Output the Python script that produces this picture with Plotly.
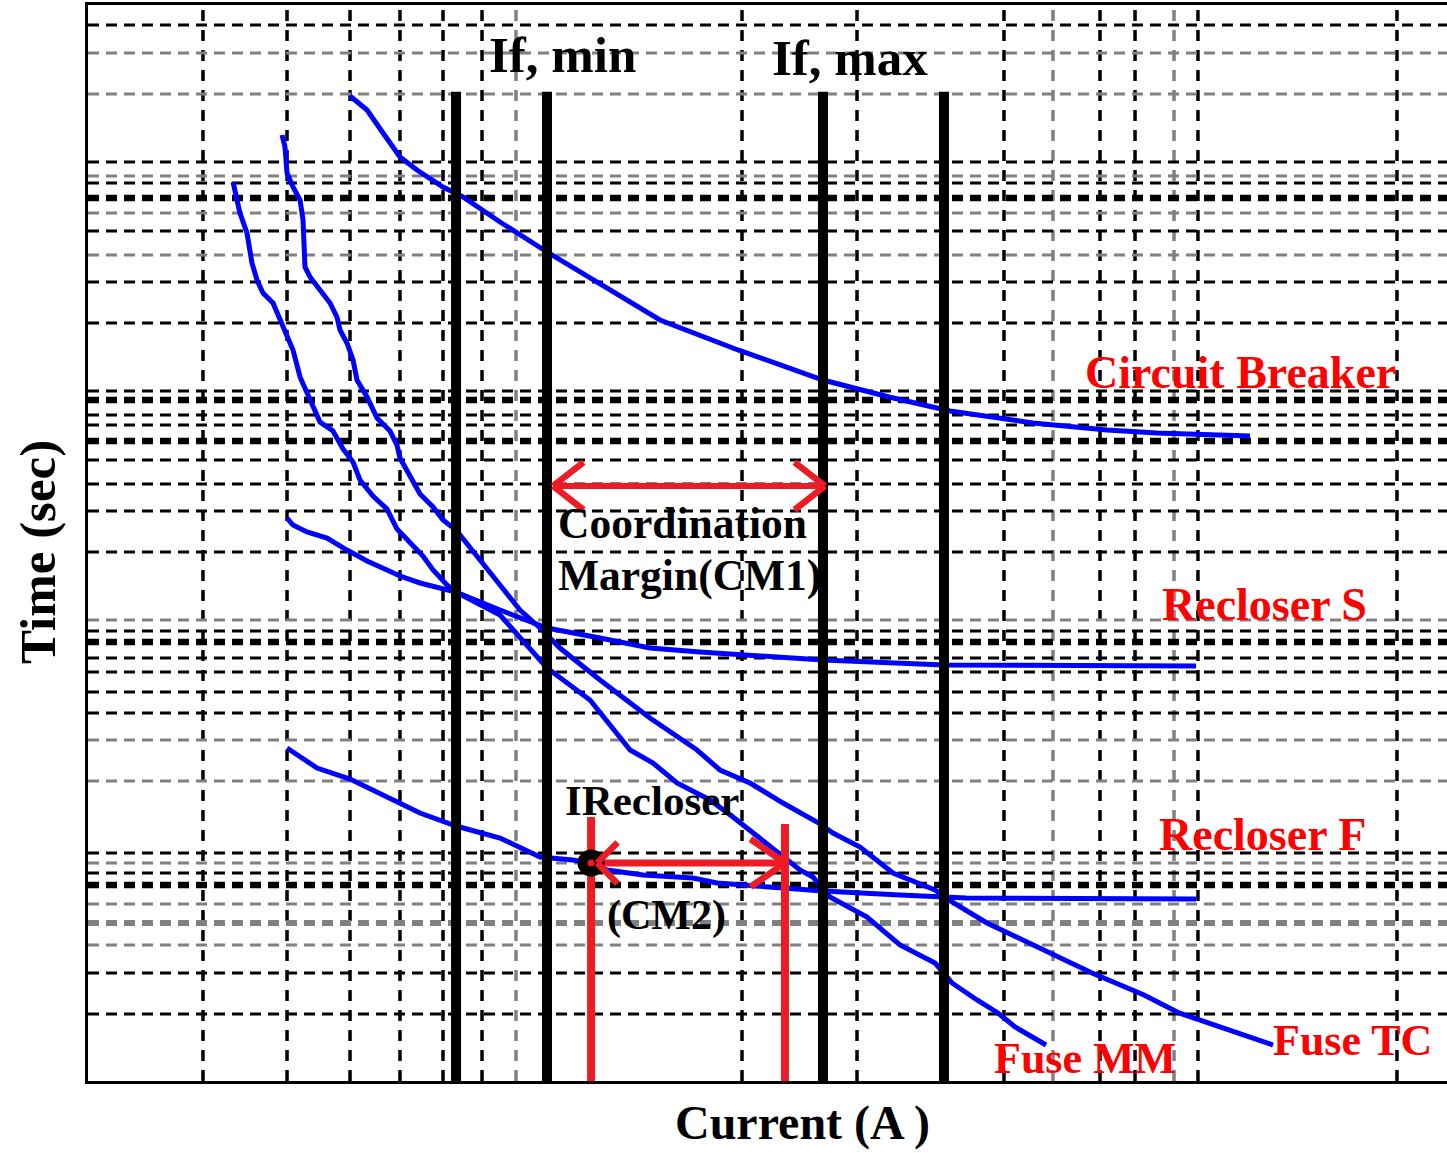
import numpy as np
import plotly.graph_objects as go

# ---------------- time-current characteristics (current in A, time in s) ----------------
cb_current = [3.788, 4.130, 4.480, 4.883, 5.324, 6.077, 6.727, 8.120, 10.31, 13.78, 18.31,
              27.22, 41.93, 58.64, 79.98, 121.9, 177.6, 229.0, 367.5]
cb_time = [131.6, 115.1, 92.19, 73.15, 64.53, 54.81, 49.77, 39.13, 29.31, 20.92, 15.23,
           11.41, 8.545, 7.255, 6.339, 5.648, 5.279, 5.129, 4.983]

rs_current = [2.750, 2.835, 3.044, 3.370, 3.730, 4.130, 4.571, 4.883, 5.406, 6.200, 6.493,
              8.120, 10.31, 13.50, 17.40, 22.44, 28.93, 41.93, 77.55, 279.2]
rs_time = [2.262, 2.114, 1.977, 1.866, 1.662, 1.495, 1.371, 1.294, 1.210, 1.131, 1.109,
           0.9328, 0.7844, 0.7123, 0.6468, 0.6223, 0.6047, 0.5763, 0.5493, 0.5440]

rf_current = [2.750, 3.203, 3.788, 4.480, 5.406, 6.493, 8.120, 9.949, 11.76, 12.90, 13.99,
              16.80, 21.65, 24.46, 32.51, 41.93, 62.00, 86.75, 279.2]
rf_time = [0.2469, 0.2037, 0.1832, 0.1571, 0.1320, 0.1165, 0.1038, 0.08645, 0.08401, 0.08161,
           0.07630, 0.07269, 0.07062, 0.06730, 0.06477, 0.06231, 0.05996, 0.05825, 0.05769]

mm_current = [2.090, 2.132, 2.165, 2.244, 2.301, 2.361, 2.434, 2.561, 2.653, 2.722, 2.835,
              2.938, 3.044, 3.252, 3.474, 3.655, 3.846, 3.985, 4.257, 4.571, 4.810, 5.138,
              5.489, 5.776, 6.200, 6.493, 8.120, 10.31, 12.83, 15.73, 17.67, 19.96, 23.61,
              26.53, 29.38, 31.54, 35.45, 37.30, 39.85, 43.45, 52.44, 62.00, 74.10, 80.78,
              91.73, 102.0, 111.3, 121.3, 130.3]
mm_time = [57.50, 49.77, 42.67, 35.20, 26.36, 22.38, 19.75, 17.94, 15.23, 13.44, 11.41,
           8.796, 7.539, 5.702, 5.228, 4.397, 3.879, 3.263, 2.796, 2.467, 2.035, 1.778,
           1.569, 1.371, 1.187, 1.109, 0.8890, 0.5336, 0.3921, 0.2422, 0.2138, 0.1763, 0.1497,
           0.1271, 0.1089, 0.09892, 0.08161, 0.07630, 0.07130, 0.05881, 0.04850, 0.03705,
           0.03115, 0.02570, 0.02182, 0.01926, 0.01682, 0.01528, 0.01414]

tc_current = [2.681, 2.722, 2.750, 2.835, 2.938, 2.983, 3.013, 3.091, 3.252, 3.422, 3.545,
              3.600, 3.730, 3.846, 3.925, 4.130, 4.345, 4.642, 4.810, 4.883, 5.138, 5.406,
              5.776, 6.077, 6.493, 7.334, 8.120, 8.987, 9.949, 11.01, 13.50, 17.40, 22.10,
              24.84, 28.93, 34.21, 40.67, 44.11, 50.61, 59.84, 74.10, 80.78, 96.49, 115.3,
              137.8, 164.6, 214.4, 256.1, 306.0, 363.7, 413.0]
tc_time = [90.43, 80.55, 62.71, 54.81, 48.36, 39.89, 25.37, 23.04, 20.33, 17.94, 15.67,
           13.83, 12.20, 10.36, 8.545, 7.255, 5.926, 5.228, 4.569, 4.032, 3.390, 2.850,
           2.515, 2.219, 2.016, 1.510, 1.187, 0.9328, 0.7844, 0.6468, 0.4753, 0.3298, 0.2422,
           0.1998, 0.1763, 0.1454, 0.1211, 0.1089, 0.09519, 0.07414, 0.06291, 0.05605,
           0.04579, 0.03888, 0.03301, 0.02829, 0.02289, 0.01926, 0.01715, 0.01528, 0.01414]

# fault current bands (A) and the height of the band markers (s)
if_min_bounds = [6.493, 10.31]
if_max_bounds = [41.93, 77.55]
band_top_time = 137.0
axis_bottom_time = 0.01

# recloser pickup point and coordination margins
i_recloser = 12.90
t_recloser = 0.08161
cm2_right_current = 34.56
cm2_line_tops = [0.1271, 0.1188]
cm1_current = [10.63, 42.36]
cm1_time = 3.078
cm2_current = [13.50, 34.56]

# log-paper grid (A / s)
grid_x_black = [1.794, 2.750, 3.788, 4.883, 6.077, 7.410, 27.78, 49.84, 105.2, 171.4,
                204.8, 282.0, 775.5]
grid_x_gray = [8.806, 134.96, 249.7]
grid_y_black = [260.9, 69.72, 56.95, 35.87, 21.95, 14.80, 7.686, 6.099, 5.539, 3.955, 3.138,
                2.420, 1.630, 0.7621, 0.5875, 0.5134, 0.4233, 0.3459, 0.08984, 0.07414,
                0.02829, 0.01907]
grid_y_black_heavy = [49.29, 7.047, 4.750, 0.6855, 0.06603]
grid_y_gray = [199.2, 134.2, 60.93, 42.67, 28.48, 0.8472, 0.2668, 0.1797, 0.08161, 0.05497,
               0.03705]
grid_y_gray_heavy = [0.04579]

BLUE = "#0000FF"
RED = "#ED1C24"
LABEL_RED = "#FF0000"
SERIF = "Liberation Serif, Times New Roman, serif"

fig = go.Figure()

# ---------------- grid ----------------
shapes = []
for xv, col in [(v, "#000000") for v in grid_x_black] + [(v, "#808080") for v in grid_x_gray]:
    shapes.append(dict(type="line", xref="x", yref="paper", x0=xv, x1=xv, y0=0, y1=1,
                       layer="below", line=dict(color=col, width=3.5, dash="11px,9px")))
for yv, col, w in ([(v, "#000000", 3) for v in grid_y_black]
                   + [(v, "#000000", 6.5) for v in grid_y_black_heavy]
                   + [(v, "#808080", 3) for v in grid_y_gray]
                   + [(v, "#808080", 6) for v in grid_y_gray_heavy]):
    shapes.append(dict(type="line", xref="paper", yref="y", x0=0, x1=1, y0=yv, y1=yv,
                       layer="below", line=dict(color=col, width=w, dash="11px,7px")))

# ---------------- device curves ----------------
curves = [
    ("Circuit Breaker", cb_current, cb_time),
    ("Recloser S", rs_current, rs_time),
    ("Recloser F", rf_current, rf_time),
    ("Fuse MM", mm_current, mm_time),
    ("Fuse TC", tc_current, tc_time),
]
for name, xs, ys in curves:
    fig.add_trace(go.Scatter(x=xs, y=ys, mode="lines", name=name,
                             line=dict(color=BLUE, width=5), showlegend=False))

# fault current band markers
for xv in if_min_bounds + if_max_bounds:
    fig.add_trace(go.Scatter(x=[xv, xv], y=[axis_bottom_time, band_top_time], mode="lines",
                             line=dict(color="#000000", width=10), showlegend=False))

# recloser / fuse coordination verticals
fig.add_trace(go.Scatter(x=[i_recloser, i_recloser], y=[axis_bottom_time, cm2_line_tops[0]],
                         mode="lines", line=dict(color=RED, width=8), showlegend=False))
fig.add_trace(go.Scatter(x=[cm2_right_current, cm2_right_current],
                         y=[axis_bottom_time, cm2_line_tops[1]],
                         mode="lines", line=dict(color=RED, width=8), showlegend=False))

# arrow shafts
fig.add_trace(go.Scatter(x=cm1_current, y=[cm1_time, cm1_time], mode="lines",
                         line=dict(color=RED, width=6), showlegend=False))
fig.add_trace(go.Scatter(x=cm2_current, y=[t_recloser, t_recloser], mode="lines",
                         line=dict(color=RED, width=7), showlegend=False))

# recloser pickup point
fig.add_trace(go.Scatter(x=[i_recloser], y=[t_recloser], mode="markers",
                         marker=dict(symbol="circle", size=17, color=RED,
                                     line=dict(color="#000000", width=10)),
                         showlegend=False))

annotations = []


def chevron(tip_x, tip_y, dx, dy, width):
    """Open arrow head: two short strokes meeting at the tip."""
    for sy in (-1, 1):
        annotations.append(dict(x=np.log10(tip_x), y=np.log10(tip_y), xref="x", yref="y",
                                text="", showarrow=True, arrowhead=0, standoff=0,
                                arrowwidth=width, arrowcolor=RED, ax=dx, ay=sy * dy))


chevron(cm1_current[0], cm1_time, 32, 25, 6.5)
chevron(cm1_current[1], cm1_time, -32, 25, 6.5)
chevron(cm2_current[0] * 0.985, t_recloser, 22, 22, 6.5)
chevron(cm2_current[1], t_recloser, -36, 25, 6.5)


def px_to_paper(px, py):
    return (px - 88) / 1359, (1081 - py) / 1076


def label(text, px, py, color="#000000", size=44, xanchor="center", angle=0):
    x, y = px_to_paper(px, py)
    annotations.append(dict(text=f"<b>{text}</b>", x=x, y=y, xref="paper", yref="paper",
                            showarrow=False, xanchor=xanchor, yanchor="middle",
                            textangle=angle, borderpad=0,
                            font=dict(family=SERIF, size=size, color=color)))


label("If, min", 562, 55, size=51)
label("If, max", 850, 58, size=51)
label("Circuit Breaker", 1240, 372, color=LABEL_RED, size=46)
label("Recloser S", 1264, 604, color=LABEL_RED, size=46)
label("Recloser F", 1262, 834, color=LABEL_RED, size=46)
label("Fuse MM", 1085, 1058, color=LABEL_RED)
label("Fuse TC", 1352, 1040, color=LABEL_RED)
label("Coordination", 557, 523, size=43.5, xanchor="left")
label("Margin(CM1)", 557, 575, size=43.5, xanchor="left")
label("IRecloser", 564, 800, size=43, xanchor="left")
label("(CM2)", 606, 915, size=42, xanchor="left")
label("Current (A )", 803, 1123, size=48)
label("Time (sec)", 38, 552, size=51, angle=-90)

fig.update_layout(
    width=1447, height=1153,
    margin=dict(l=88, r=0, t=5, b=72),
    paper_bgcolor="white", plot_bgcolor="white",
    shapes=shapes, annotations=annotations,
    xaxis=dict(type="log", range=[0, 3], showgrid=False, zeroline=False,
               showticklabels=False, ticks="", showline=True, linecolor="black",
               linewidth=3, mirror=True),
    yaxis=dict(type="log", range=[-2, 2.5], showgrid=False, zeroline=False,
               showticklabels=False, ticks="", showline=True, linecolor="black",
               linewidth=3),
)

fig.write_html("out.html")
